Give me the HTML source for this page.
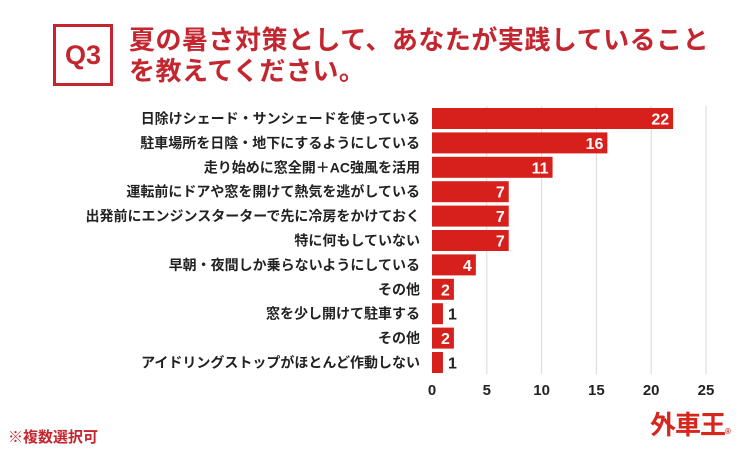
<!DOCTYPE html>
<html><head><meta charset="utf-8"><style>
body{margin:0;background:#fff;}
#root{position:relative;width:750px;height:450px;overflow:hidden;font-family:"Liberation Sans","Noto Sans CJK JP",sans-serif;}
.t{position:absolute;white-space:nowrap;font-weight:bold;}
</style></head><body>
<div id="root">
<div class="t" style="left:53px;top:24px;width:54px;height:56px;border:3px solid #c3262e;color:#c3262e;font-size:27px;line-height:56px;text-align:center;">Q3</div>
<div class="t" style="left:129px;top:25px;color:#c3262e;font-size:26px;line-height:31px;letter-spacing:0.5px;">夏の暑さ対策として、あなたが実践していること<br>を教えてください。</div>
<div class="t" style="left:8px;top:426px;color:#c3262e;font-size:15px;">※複数選択可</div>
<div class="t" style="left:650px;top:405px;color:#d7261e;font-size:26px;letter-spacing:-1px;">外車王<span style="font-size:8px">®</span></div>
<svg id="svg" width="750" height="450" style="position:absolute;left:0;top:0"></svg>
</div>
<script>
const categories=["日除けシェード・サンシェードを使っている","駐車場所を日陰・地下にするようにしている","走り始めに窓全開＋AC強風を活用","運転前にドアや窓を開けて熱気を逃がしている","出発前にエンジンスターターで先に冷房をかけておく","特に何もしていない","早朝・夜間しか乗らないようにしている","その他","窓を少し開けて駐車する","その他","アイドリングストップがほとんど作動しない"];
const values=[22,16,11,7,7,7,4,2,1,2,1];
const ticks=[0,5,10,15,20,25];
const svg=document.getElementById('svg');const NS='http://www.w3.org/2000/svg';
const x=v=>432+v*10.96;const y=i=>108+i*24.4;
function mk(t,a){const e=document.createElementNS(NS,t);for(const k in a)e.setAttribute(k,a[k]);svg.appendChild(e);return e;}
ticks.forEach(t=>{
 if(t>0){const g=mk('line',{x1:x(t),x2:x(t),y1:106,y2:374,stroke:'#d8d8d8','stroke-width':1});
 
 }
 const l=mk('text',{x:x(t),y:395,'text-anchor':'middle','font-size':15,'font-weight':'bold',fill:'#222','font-family':'Liberation Sans, sans-serif'});l.textContent=t;
 
 
});
categories.forEach((c,i)=>{
 const b=mk('rect',{x:x(0),y:y(i),width:x(values[i])-x(0),height:21,fill:'#d7201b'});
 
 
 const l=mk('text',{x:420,y:y(i)+15.5,'text-anchor':'end','font-size':14,'font-weight':'bold',fill:'#222','font-family':'Liberation Sans, Noto Sans CJK JP, sans-serif'});l.textContent=c;
 
 
 const inside=values[i]>=2;
 const v=mk('text',{x:inside?x(values[i])-4:x(values[i])+5,y:y(i)+16.5,'text-anchor':inside?'end':'start','font-size':16,'font-weight':'bold',fill:inside?'#fff':'#222','font-family':'Liberation Sans, sans-serif'});v.textContent=values[i];
 
 
});
</script>
</body></html>
